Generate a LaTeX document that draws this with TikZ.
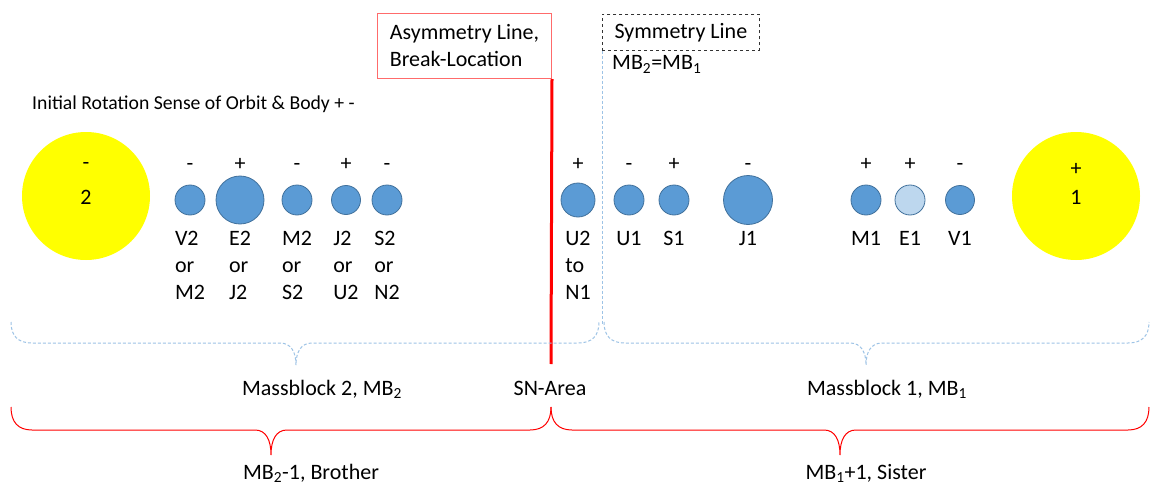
\documentclass[tikz,border=0pt]{standalone}
\usepackage{fontspec}
\setmainfont{Carlito}
\definecolor{planet}{HTML}{5B9BD5}
\definecolor{planetedge}{HTML}{41719C}
\definecolor{earthone}{HTML}{BDD7EE}
\definecolor{bracecol}{HTML}{9DC3E6}
\definecolor{boxred}{HTML}{FF6B6B}
\definecolor{sunyellow}{HTML}{FFFF00}
\begin{document}
\begin{tikzpicture}[x=1pt,y=-1pt,
  font=\fontsize{22}{27}\selectfont,
  planetnode/.style={circle, fill=planet, draw=planetedge, line width=0.8pt, inner sep=0pt},
  sunnode/.style={circle, fill=sunyellow, inner sep=0pt, minimum size=128pt},
  signlbl/.style={anchor=base, inner sep=0pt},
  namelbl/.style={anchor=north, align=left, inner sep=0pt},
  txt/.style={anchor=base, inner sep=0pt},
  bluebrace/.style={draw=bracecol, line width=1pt, dash pattern=on 3pt off 2pt},
  redbrace/.style={draw=red, line width=1pt}]
\useasboundingbox (0,0) rectangle (1152,487);
\fill[white] (0,0) rectangle (1152,487);

% top boxes
\node[draw=boxred, line width=1pt, minimum width=174pt, minimum height=65pt, align=left, inner xsep=10pt, anchor=north west] (asym) at (377,13) {Asymmetry Line,\\Break-Location};
\node[draw=black!80, dashed, line width=0.8pt, minimum width=157pt, minimum height=36pt, anchor=north west] (symbox) at (602,14) {Symmetry Line};
\node[anchor=base west, inner sep=0pt] (mbeq) at (612,70) {MB\textsubscript{2}=MB\textsubscript{1}};

\node[anchor=base west, inner sep=0pt, font=\fontsize{19.7}{24}\selectfont] (title) at (32,110) {Initial Rotation Sense of Orbit \& Body + -};

% lines
\coordinate (redend) at (551,364);
\draw[red, line width=3pt] (asym.south east) -- (redend);
\coordinate (symend) at (602,325);
\draw[bluebrace] (symbox.south west) -- (symend);

% suns
\node[sunnode] (sun2) at (86,196) {};
\node[signlbl] (sun2s) at (86,169) {-};
\node[signlbl] (sun2n) at (86,204) {2};
\node[sunnode] (sun1) at (1076,196) {};
\node[signlbl] (sun1s) at (1076,175) {+};
\node[signlbl] (sun1n) at (1076,204) {1};

% planets
\foreach \nm/\x/\d/\s/\lab/\col in {
  V2/190/30/-/{V2\\or\\M2}/planet,
  E2/240/48/+/{E2\\or\\J2}/planet,
  M2/297/30/-/{M2\\or\\S2}/planet,
  J2/346/29/+/{J2\\or\\U2}/planet,
  S2/387/30/-/{S2\\or\\N2}/planet,
  U2/578/34/+/{U2\\to\\N1}/planet,
  U1/629/30/-/{U1}/planet,
  S1/674/30/+/{S1}/planet,
  J1/748/49/-/{J1}/planet,
  M1/866/30/+/{M1}/planet,
  E1/910/30/+/{E1}/earthone,
  V1/960/29/-/{V1}/planet}{
  \node[planetnode, fill=\col, minimum size=\d pt] (p\nm) at (\x,200) {};
  \node[signlbl] (s\nm) at (\x,170) {\s};
  \node[namelbl] (l\nm) at (\x,231) {\lab};
}

% braces
\draw[bluebrace] (11,322) .. controls (11,336) and (18,343) .. (32,343) -- (280,343) .. controls (291,343) and (296,352) .. (296,365) .. controls (296,352) and (301,343) .. (312,343) -- (578,343) .. controls (592,343) and (599,336) .. (599,322);
\draw[bluebrace] (604,322) .. controls (604,336) and (611,343) .. (625,343) -- (850,343) .. controls (861,343) and (866,352) .. (866,365) .. controls (866,352) and (871,343) .. (882,343) -- (1128,343) .. controls (1142,343) and (1149,336) .. (1149,322);
\draw[redbrace] (11,407) .. controls (11,422) and (18,430) .. (32,430) -- (255,430) .. controls (266,430) and (271,440) .. (271,455) .. controls (271,440) and (276,430) .. (287,430) -- (530,430) .. controls (544,430) and (551,422) .. (551,407);
\draw[redbrace] (551,407) .. controls (551,422) and (558,430) .. (572,430) -- (824,430) .. controls (835,430) and (840,440) .. (840,455) .. controls (840,440) and (845,430) .. (856,430) -- (1128,430) .. controls (1142,430) and (1149,422) .. (1149,407);

% bottom labels
\node[txt] (mb2) at (322,395) {Massblock 2, MB\textsubscript{2}};
\node[txt] (sn) at (550,395) {SN-Area};
\node[txt] (mb1) at (887,395) {Massblock 1, MB\textsubscript{1}};
\node[txt] (bro) at (311,479) {MB\textsubscript{2}-1, Brother};
\node[txt] (sis) at (866,479) {MB\textsubscript{1}+1, Sister};
\end{tikzpicture}
\end{document}
